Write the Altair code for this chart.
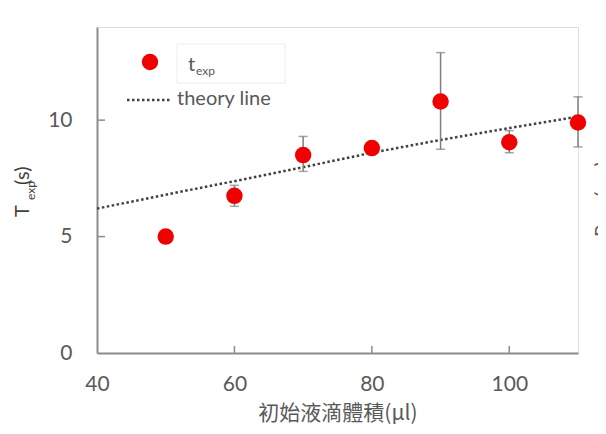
import altair as alt
import pandas as pd

# data
volume = [50, 60, 70, 80, 90, 100, 110]
t_exp = [5.0, 6.75, 8.5, 8.8, 10.8, 9.05, 9.9]
err_low = [5.0, 6.3, 7.8, 8.8, 8.75, 8.6, 8.85]
err_high = [5.0, 7.2, 9.3, 8.8, 12.9, 9.55, 11.0]

theory_x = [40, 50, 60, 70, 80, 90, 100, 110]
theory_y = [6.2, 6.8, 7.38, 7.98, 8.6, 9.15, 9.66, 10.15]

x_ticks = [40, 60, 80, 100]
y_ticks = [0, 5, 10]

W, H = 481, 326
GRAY_AX = "#8c8c8c"
GRAY_TX = "#595959"
FONT = "Lato"

pts = pd.DataFrame({"v": volume, "t": t_exp, "lo": err_low, "hi": err_high})
theory = pd.DataFrame({"v": theory_x, "t": theory_y})
xt = pd.DataFrame({"v": x_ticks[1:]})
yt = pd.DataFrame({"t": y_ticks[1:]})

xs = alt.Scale(domain=[40, 110], nice=False, zero=False)
ys = alt.Scale(domain=[0, 14], nice=False)

xaxis = alt.Axis(values=x_ticks, ticks=False, grid=False, domainColor=GRAY_AX, domainWidth=2,
                 labelColor=GRAY_TX, labelFont=FONT, labelFontSize=21, labelPadding=20, labelFlush=False,
                 title="初始液滴體積(μl)", titleFont="Noto Sans CJK TC", titleFontSize=21,
                 titleFontWeight="normal", titleColor=GRAY_TX, titlePadding=8)
yaxis = alt.Axis(values=y_ticks, ticks=False, grid=False, domainColor=GRAY_AX, domainWidth=2,
                 labelColor=GRAY_TX, labelFont=FONT, labelFontSize=21, labelPadding=25, labelFlush=False,
                 title=None)

line = alt.Chart(theory).mark_line(color="#404040", strokeDash=[2.5, 2.5], strokeWidth=2.5).encode(
    x=alt.X("v:Q", scale=xs, axis=xaxis),
    y=alt.Y("t:Q", scale=ys, axis=yaxis),
)

err = alt.Chart(pts).mark_rule(color="#7f7f7f", strokeWidth=1.5).encode(
    x="v:Q", y="lo:Q", y2="hi:Q")
cap_lo = alt.Chart(pts).mark_tick(color="#7f7f7f", thickness=1.5, size=9, orient="horizontal").encode(
    x="v:Q", y="lo:Q")
cap_hi = alt.Chart(pts).mark_tick(color="#7f7f7f", thickness=1.5, size=9, orient="horizontal").encode(
    x="v:Q", y="hi:Q")

dots = alt.Chart(pts).mark_point(filled=True, shape="circle", size=270, color="#f00000", opacity=1).encode(
    x="v:Q", y="t:Q")

xtick = alt.Chart(xt).mark_rule(color=GRAY_AX, strokeWidth=1.5).encode(
    x="v:Q", y=alt.value(H), y2=alt.value(H - 7))
ytick = alt.Chart(yt).mark_rule(color=GRAY_AX, strokeWidth=1.5).encode(
    y="t:Q", x=alt.value(0), x2=alt.value(8))

# legend
leg_box = alt.Chart(pd.DataFrame({"a": [0]})).mark_rect(fill=None, stroke="#ececec", strokeWidth=1).encode(
    x=alt.value(80), x2=alt.value(188), y=alt.value(17), y2=alt.value(56))
leg_dot = alt.Chart(pd.DataFrame({"a": [0]})).mark_point(filled=True, shape="circle", size=270,
                                                          color="#f00000", opacity=1).encode(
    x=alt.value(53), y=alt.value(35))
leg_t = alt.Chart(pd.DataFrame({"s": ["t"]})).mark_text(font=FONT, fontSize=20, color=GRAY_TX,
                                                        align="left", baseline="alphabetic").encode(
    x=alt.value(91), y=alt.value(44), text="s:N")
leg_exp = alt.Chart(pd.DataFrame({"s": ["exp"]})).mark_text(font=FONT, fontSize=12, color=GRAY_TX,
                                                            align="left", baseline="alphabetic").encode(
    x=alt.value(99), y=alt.value(48), text="s:N")
leg_line = alt.Chart(pd.DataFrame({"a": [0]})).mark_rule(color="#404040", strokeDash=[2.5, 2.5],
                                                         strokeWidth=2.5).encode(
    x=alt.value(30), x2=alt.value(74), y=alt.value(73))
leg_theory = alt.Chart(pd.DataFrame({"s": ["theory line"]})).mark_text(font=FONT, fontSize=20, color=GRAY_TX,
                                                                      align="left", baseline="middle").encode(
    x=alt.value(80), y=alt.value(72), text="s:N")

# y axis title with subscript
yt_T = alt.Chart(pd.DataFrame({"s": ["T"]})).mark_text(font=FONT, fontSize=20, color="#404040", angle=270,
                                                       align="left", baseline="alphabetic").encode(
    x=alt.value(-68), y=alt.value(190), text="s:N")
yt_exp = alt.Chart(pd.DataFrame({"s": ["exp"]})).mark_text(font=FONT, fontSize=12, color="#404040", angle=270,
                                                           align="left", baseline="alphabetic").encode(
    x=alt.value(-62), y=alt.value(173), text="s:N")
yt_s = alt.Chart(pd.DataFrame({"s": ["(s)"]})).mark_text(font=FONT, fontSize=20, color="#404040", angle=270,
                                                         align="left", baseline="alphabetic").encode(
    x=alt.value(-68), y=alt.value(158), text="s:N")

# cut-off title of the neighbouring chart at the right edge
right_cm = alt.Chart(pd.DataFrame({"s": ["(cm)"]})).mark_text(font=FONT, fontSize=20, color=GRAY_TX, angle=270,
                                                              align="left", baseline="alphabetic").encode(
    x=alt.value(512), y=alt.value(170), text="s:N")
right_R = alt.Chart(pd.DataFrame({"s": ["R"]})).mark_text(font=FONT, fontSize=20, color=GRAY_TX, angle=270,
                                                          align="left", baseline="alphabetic").encode(
    x=alt.value(512), y=alt.value(210), text="s:N")

chart = alt.layer(
    line, err, cap_lo, cap_hi, dots, xtick, ytick,
    leg_box, leg_dot, leg_t, leg_exp, leg_line, leg_theory,
    yt_T, yt_exp, yt_s, right_cm, right_R,
).properties(
    width=W, height=H,
    autosize=alt.AutoSizeParams(type="none"),
    padding={"left": 89, "top": 19, "right": 20, "bottom": 72},
).configure_view(stroke=None).configure(background="white")

chart.save("out.html", embed_options={"renderer": "svg", "actions": False})
